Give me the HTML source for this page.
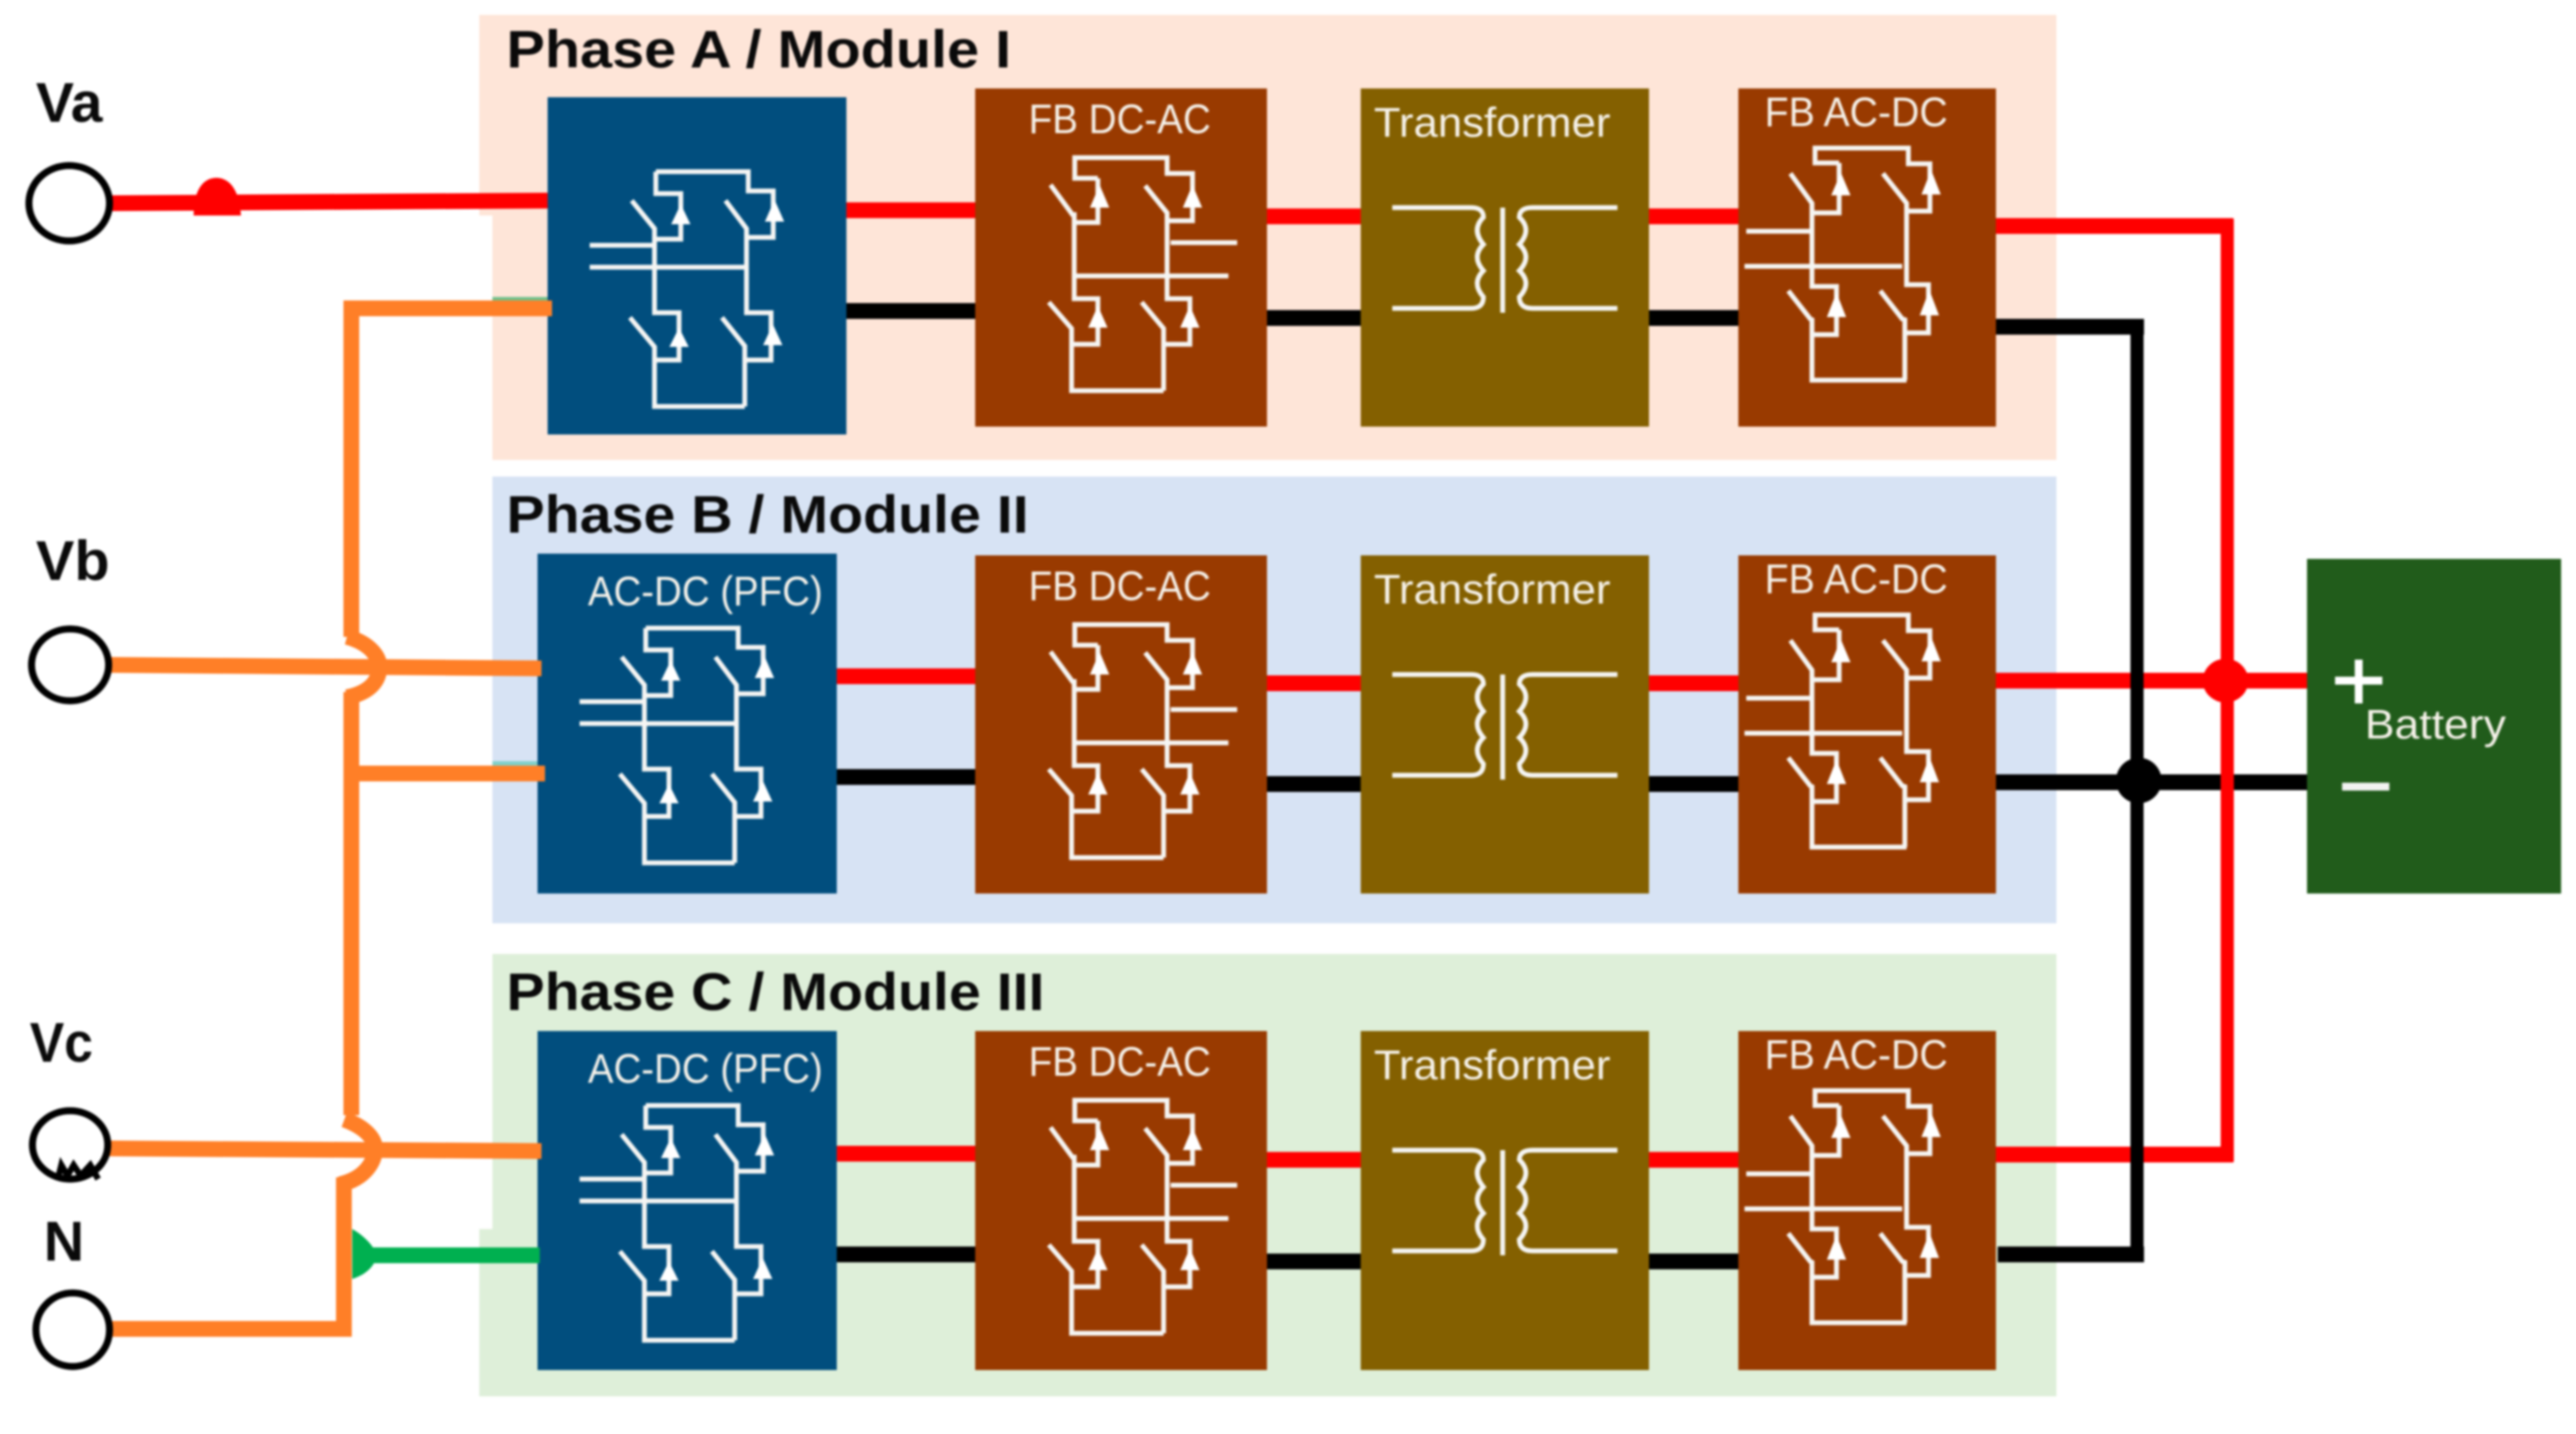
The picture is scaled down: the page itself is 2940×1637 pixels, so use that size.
<!DOCTYPE html>
<html lang="en">
<head>
<meta charset="utf-8">
<title>Three-phase module diagram</title>
<style>
html,body{margin:0;padding:0;background:#fff;width:2940px;height:1637px;overflow:hidden}
svg{display:block;filter:blur(1.2px)}
.t{font-family:"Liberation Sans",sans-serif;font-weight:700;fill:#0a0a0a}
.w{font-family:"Liberation Sans",sans-serif;fill:#f6f2ea}
.ic{fill:none;stroke:#f5f5f3;stroke-width:5.500}
.ar{fill:#fff;stroke:none}
</style>
</head>
<body>
<svg width="2940" height="1637" viewBox="0 0 2940 1637" xmlns="http://www.w3.org/2000/svg">
<defs>
<g id="pfc">
  <path class="ic" d="M123.500 85V110H152V162H123"/>
  <path class="ic" d="M123.500 85H229V107H257.500V160H229"/>
  <path class="ic" d="M96 118L122 150V246H150V300H122"/>
  <path class="ic" d="M94 251.500L122 285V353H225"/>
  <path class="ic" d="M203 118L227 150V246H255V300H227"/>
  <path class="ic" d="M199 251.500L225 284V353"/>
  <path class="ic" d="M48 169H120M48 194H225"/>
  <path class="ar" d="M152 122L163 145H141ZM150 263L161 285H139ZM259 117L270 142H248ZM257 259L268 283H246Z"/>
</g>
<g id="dcac">
  <path class="ic" d="M140 102.500H113.600V79H219V97H248V151H219"/>
  <path class="ic" d="M140 102.500V153H113M86 110L111 144H113V240H140V292H111M84 244L110 274V345H215"/>
  <path class="ic" d="M194 111L219 142V240H245V292H216M190 244L215 274V345"/>
  <path class="ic" d="M223 176H299M115 214H289"/>
  <path class="ar" d="M142 110L153 136H131ZM248 110L259 136H237ZM140 248L151 273H129ZM245 248L256 273H234Z"/>
</g>
<g id="acdc">
  <path class="ic" d="M115 85H87.500V68H194V86H218.600V140H194"/>
  <path class="ic" d="M115 85V142H85M59.400 97L84 131V226H112V281H84M57 231L82 263L84 264V333H192"/>
  <path class="ic" d="M165 97L192 131V224H217V279H190M162 231L187 263L190 264V333"/>
  <path class="ic" d="M9 163H82M7 203H187"/>
  <path class="ar" d="M117 96L128 122H106ZM220 93L231 121H209ZM112 233L123 261H101ZM218 230L229 259H207Z"/>
</g>
<g id="xf">
  <path class="ic" d="M36 136H126Q140 136 140 147Q126 161 140 178Q126 192 140 208Q126 222 140 238Q140 251 126 251H36"/>
  <path class="ic" d="M293 136H196Q181 136 181 147Q196 161 181 178Q196 192 181 208Q196 222 181 238Q181 251 196 251H293"/>
  <path class="ic" d="M162 136V256"/>
</g>
</defs>

<rect width="2940" height="1637" fill="#fff"/>

<!-- Phase backgrounds -->
<path fill="#FEE5D8" d="M547 17H2347V525H562V246H547Z"/>
<rect x="562" y="544" width="1785" height="510" fill="#D7E3F4"/>
<path fill="#DEEFD9" d="M562 1089H2347V1594H547V1403H562Z"/>

<!-- Slivers -->
<rect x="562" y="339" width="64" height="5" fill="#6fc08a"/>
<rect x="562" y="869" width="52" height="6" fill="#7fd0c8"/>

<!-- Wires between modules: red -->
<g stroke="#ff0000" stroke-width="18" fill="none">
  <path d="M960 240H1120M1440 247H1560M1876 247H1990"/>
  <path d="M950 772H1120M1440 780H1560M1876 780H1990"/>
  <path d="M950 1317H1120M1440 1324H1560M1876 1324H1990"/>
  <path d="M2270 258H2549" />
  <path d="M2270 777H2640"/>
  <path d="M2270 1318H2549"/>
</g>
<!-- black -->
<g stroke="#000" stroke-width="18" fill="none">
  <path d="M960 355H1120M1440 363H1560M1876 363H1990"/>
  <path d="M950 887H1120M1440 895H1560M1876 895H1990"/>
  <path d="M950 1432H1120M1440 1440H1560M1876 1440H1990"/>
  <path d="M2270 373H2447"/>
  <path d="M2270 893H2640"/>
  <path d="M2280 1432H2447"/>
</g>
<path stroke="#000" stroke-width="15" fill="none" d="M2439 366V1440"/>
<path stroke="#ff0000" stroke-width="15" fill="none" d="M2542 250V1326"/>
<ellipse cx="2540" cy="777" rx="26" ry="25" fill="#ff0000"/>
<ellipse cx="2441" cy="891" rx="26" ry="26" fill="#000"/>

<!-- Blocks -->
<g fill="#014E7E">
  <rect x="625" y="111" width="341" height="385"/>
  <rect x="613.500" y="632" width="341.500" height="388"/>
  <rect x="613.500" y="1177" width="341.500" height="387"/>
</g>
<g fill="#993A00">
  <rect x="1113" y="101" width="333" height="386"/>
  <rect x="1984" y="101" width="294" height="386"/>
  <rect x="1113" y="634" width="333" height="386"/>
  <rect x="1984" y="634" width="294" height="386"/>
  <rect x="1113" y="1177" width="333" height="387"/>
  <rect x="1984" y="1177" width="294" height="387"/>
</g>
<g fill="#846000">
  <rect x="1553" y="101" width="329" height="386"/>
  <rect x="1553" y="634" width="329" height="386"/>
  <rect x="1553" y="1177" width="329" height="387"/>
</g>
<rect x="2633" y="638" width="290" height="382" fill="#215C1B"/>

<!-- Icons -->
<use href="#pfc" x="625" y="111"/>
<use href="#pfc" x="613.500" y="632"/>
<use href="#pfc" x="613.500" y="1177"/>
<use href="#dcac" x="1113" y="101"/>
<use href="#dcac" x="1113" y="634"/>
<use href="#dcac" x="1113" y="1177"/>
<use href="#xf" x="1553" y="101"/>
<use href="#xf" x="1553" y="634"/>
<use href="#xf" x="1553" y="1177"/>
<use href="#acdc" x="1984" y="101"/>
<use href="#acdc" x="1984" y="634"/>
<use href="#acdc" x="1984" y="1177"/>

<!-- Va red input -->
<path d="M125 232L625 229" stroke="#ff0000" stroke-width="18" fill="none"/>
<path fill="#ff0000" d="M221 246C221 215 233 203 247 203C261 203 273 215 275 246Z"/>

<!-- Green neutral -->
<path d="M402 1433H616" stroke="#00B050" stroke-width="18" fill="none"/>
<path fill="#00B050" d="M402 1403C418 1412 428 1425 430 1433C428 1445 418 1455 402 1460Z"/>

<!-- Orange -->
<g stroke="#FF7F27" fill="none" stroke-width="18">
  <path d="M630 352H401V727"/>
  <path d="M396 727C425 735 433 752 433 761C433 775 425 790 396 796"/>
  <path d="M401 790V1273"/>
  <path d="M393 1278C420 1288 428 1302 428 1311C428 1325 418 1345 388 1352"/>
  <path d="M392.500 1344V1517H128"/>
  <path d="M125 759L618 763"/>
  <path d="M401 883H622"/>
  <path d="M125 1311L618 1314"/>
</g>

<!-- Terminals -->
<g fill="#fff" stroke="#000" stroke-width="8">
  <ellipse cx="79" cy="232" rx="46" ry="43"/>
  <ellipse cx="80" cy="759" rx="44" ry="41"/>
  <ellipse cx="80" cy="1307" rx="43" ry="39"/>
  <ellipse cx="83" cy="1518" rx="42" ry="42"/>
</g>
<path d="M66 1346L70 1330L77 1342L84 1330L92 1342L103 1330L112 1346" fill="none" stroke="#000" stroke-width="7"/>

<!-- Titles -->
<text class="t" x="578" y="77" font-size="60" textLength="576" lengthAdjust="spacingAndGlyphs">Phase A / Module I</text>
<text class="t" x="578" y="608" font-size="60" textLength="596" lengthAdjust="spacingAndGlyphs">Phase B / Module II</text>
<text class="t" x="578" y="1153" font-size="60" textLength="614" lengthAdjust="spacingAndGlyphs">Phase C / Module III</text>

<text class="t" x="41" y="139" font-size="64" textLength="76" lengthAdjust="spacingAndGlyphs">Va</text>
<text class="t" x="41" y="662" font-size="64" textLength="84" lengthAdjust="spacingAndGlyphs">Vb</text>
<text class="t" x="34" y="1212" font-size="64" textLength="72" lengthAdjust="spacingAndGlyphs">Vc</text>
<text class="t" x="50" y="1439" font-size="64" textLength="46" lengthAdjust="spacingAndGlyphs">N</text>

<!-- Block labels -->
<g class="w" font-size="47">
  <text x="1174" y="152" textLength="208" lengthAdjust="spacingAndGlyphs">FB DC-AC</text>
  <text x="1174" y="685" textLength="208" lengthAdjust="spacingAndGlyphs">FB DC-AC</text>
  <text x="1174" y="1228" textLength="208" lengthAdjust="spacingAndGlyphs">FB DC-AC</text>
  <text x="1568" y="156" textLength="270" lengthAdjust="spacingAndGlyphs">Transformer</text>
  <text x="1568" y="689" textLength="270" lengthAdjust="spacingAndGlyphs">Transformer</text>
  <text x="1568" y="1232" textLength="270" lengthAdjust="spacingAndGlyphs">Transformer</text>
  <text x="2014" y="144" textLength="209" lengthAdjust="spacingAndGlyphs">FB AC-DC</text>
  <text x="2014" y="677" textLength="209" lengthAdjust="spacingAndGlyphs">FB AC-DC</text>
  <text x="2014" y="1220" textLength="209" lengthAdjust="spacingAndGlyphs">FB AC-DC</text>
  <text x="671" y="691" textLength="268" lengthAdjust="spacingAndGlyphs">AC-DC (PFC)</text>
  <text x="671" y="1236" textLength="268" lengthAdjust="spacingAndGlyphs">AC-DC (PFC)</text>
  <text x="2699" y="843" textLength="161" lengthAdjust="spacingAndGlyphs">Battery</text>
</g>
<path d="M2665 777H2719M2692 753V803" stroke="#fff" stroke-width="9" fill="none"/>
<path d="M2673 898H2727" stroke="#f2f2f2" stroke-width="9" fill="none"/>
</svg>
</body>
</html>
